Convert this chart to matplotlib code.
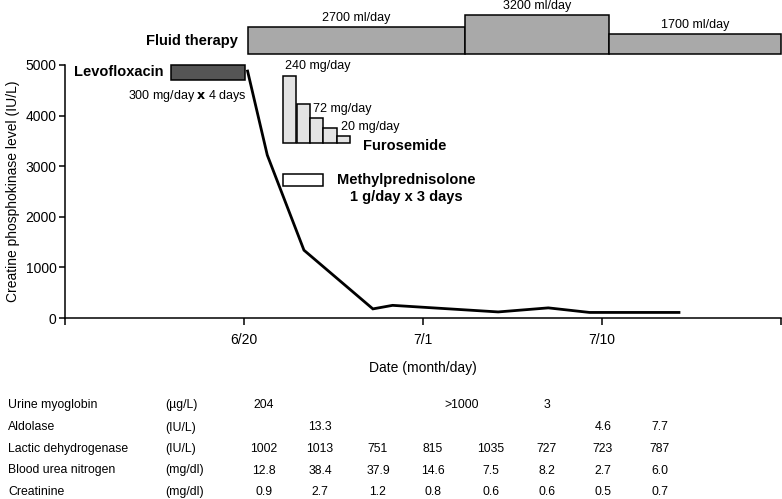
import matplotlib
matplotlib.use('Agg')
import matplotlib.pyplot as plt

plt.rcParams['font.family'] = ['Liberation Sans', 'DejaVu Sans']

# x is days counted from 6/20 (ticks every 10 units)
cpk_day = [0.2, 1.3, 3.35, 7.2, 8.3, 14.2, 17.0, 19.3, 24.3]
cpk_level = [4880, 3220, 1340, 180, 250, 120, 200, 110, 110]

tick_pos = [-10, 0, 10, 20, 30]
tick_labels = ['', '6/20', '7/1', '7/10', '']

# fluid therapy blocks (drawn above the plot area)
fluid_start = [0.22, 12.35, 20.4]
fluid_end = [12.35, 20.4, 30.0]
fluid_top = [5750, 5990, 5610]
fluid_labels = ['2700 ml/day', '3200 ml/day', '1700 ml/day']
fluid_base = 5215

levo_start, levo_end = -4.1, 0.05
levo_low, levo_high = 4705, 5000

furo_start = [2.16, 2.94, 3.68, 4.42, 5.17]
furo_width = 0.76
furo_top = [4790, 4230, 3950, 3755, 3605]
furo_base = 3465

mp_start, mp_end = 2.16, 4.4
mp_low, mp_high = 2610, 2845

# lab table
lab_names = ['Urine myoglobin', 'Aldolase', 'Lactic dehydrogenase',
             'Blood urea nitrogen', 'Creatinine']
lab_units = ['(\u00b5g/L)', '(IU/L)', '(IU/L)', '(mg/dl)', '(mg/dl)']
urine_cols = [0, 3.5, 5]
urine_vals = ['204', '>1000', '3']
aldolase_cols = [1, 6, 7]
aldolase_vals = ['13.3', '4.6', '7.7']
ldh_vals = ['1002', '1013', '751', '815', '1035', '727', '723', '787']
bun_vals = ['12.8', '38.4', '37.9', '14.6', '7.5', '8.2', '2.7', '6.0']
cre_vals = ['0.9', '2.7', '1.2', '0.8', '0.6', '0.6', '0.5', '0.7']

fig = plt.figure(figsize=(7.82, 4.99), dpi=100)
ax = fig.add_axes([65 / 782, 1 - 318 / 499, 716 / 782, 253 / 499])

ax.plot(cpk_day, cpk_level, color='black', lw=2.0, solid_joinstyle='miter')

ax.set_xlim(-10, 30)
ax.set_ylim(0, 5000)
ax.set_xticks(tick_pos)
ax.set_xticklabels(tick_labels, fontsize=10)
ax.set_yticks(range(0, 5001, 1000))
ax.tick_params(axis='y', labelsize=10, length=4, width=1.1, pad=2)
ax.tick_params(axis='x', length=5, width=1.1, pad=6)
ax.spines['top'].set_visible(False)
ax.spines['right'].set_visible(False)
ax.spines['left'].set_linewidth(1.1)
ax.spines['bottom'].set_linewidth(1.1)
ax.set_xlabel('Date (month/day)', fontsize=10, labelpad=10)
ax.set_ylabel('Creatine phosphokinase level (IU/L)', fontsize=10, labelpad=4)

# fluid therapy
for s, e, t, lab in zip(fluid_start, fluid_end, fluid_top, fluid_labels):
    ax.bar(s, t - fluid_base, width=e - s, bottom=fluid_base, align='edge',
           color='#a9a9a9', edgecolor='black', lw=1.1, clip_on=False)
    ax.text((s + e) / 2, t + 60, lab, ha='center', va='bottom', fontsize=9)
ax.text(-0.35, 5480, 'Fluid therapy', ha='right', va='center',
        fontsize=10.5, fontweight='bold')

# levofloxacin
ax.bar(levo_start, levo_high - levo_low, width=levo_end - levo_start,
       bottom=levo_low, align='edge', color='#555555', edgecolor='black',
       lw=1.1, clip_on=False)
ax.text(-4.5, 4855, 'Levofloxacin', ha='right', va='center',
        fontsize=10.5, fontweight='bold')
ax.text(0.15, 4390, '300 mg/day $\\mathbf{x}$ 4 days', ha='right',
        va='center', fontsize=9)

# furosemide
for s, t in zip(furo_start, furo_top):
    ax.bar(s, t - furo_base, width=furo_width, bottom=furo_base,
           align='edge', color='#e3e3e3', edgecolor='black', lw=1.1)
ax.text(2.3, 4980, '240 mg/day', ha='left', va='center', fontsize=9)
ax.text(3.85, 4140, '72 mg/day', ha='left', va='center', fontsize=9)
ax.text(5.4, 3780, '20 mg/day', ha='left', va='center', fontsize=9)
ax.text(6.65, 3390, 'Furosemide', ha='left', va='center',
        fontsize=10.5, fontweight='bold')

# methylprednisolone
ax.bar(mp_start, mp_high - mp_low, width=mp_end - mp_start, bottom=mp_low,
       align='edge', color='white', edgecolor='black', lw=1.1)
ax.text(9.05, 2560, 'Methylprednisolone\n1 g/day x 3 days', ha='center',
        va='center', fontsize=10.5, fontweight='bold', linespacing=1.25)

# lab table under the chart
row_y = [405, 427.5, 449, 470.5, 492]
col_x = [264, 320, 378, 433, 491, 547, 603, 660]


def col_to_px(c):
    i = int(c)
    if i >= len(col_x) - 1:
        return col_x[-1]
    return col_x[i] + (c - i) * (col_x[i + 1] - col_x[i])


rows = [
    (urine_cols, urine_vals),
    (aldolase_cols, aldolase_vals),
    (list(range(8)), ldh_vals),
    (list(range(8)), bun_vals),
    (list(range(8)), cre_vals),
]
for k, (name, unit) in enumerate(zip(lab_names, lab_units)):
    y = 1 - row_y[k] / 499
    fig.text(8 / 782, y, name, ha='left', va='center', fontsize=8.8)
    fig.text(165 / 782, y, unit, ha='left', va='center', fontsize=8.8)
    cols, vals = rows[k]
    for c, v in zip(cols, vals):
        fig.text(col_to_px(c) / 782, y, v, ha='center', va='center',
                 fontsize=8.8)

fig.savefig('out.png', dpi=100)
